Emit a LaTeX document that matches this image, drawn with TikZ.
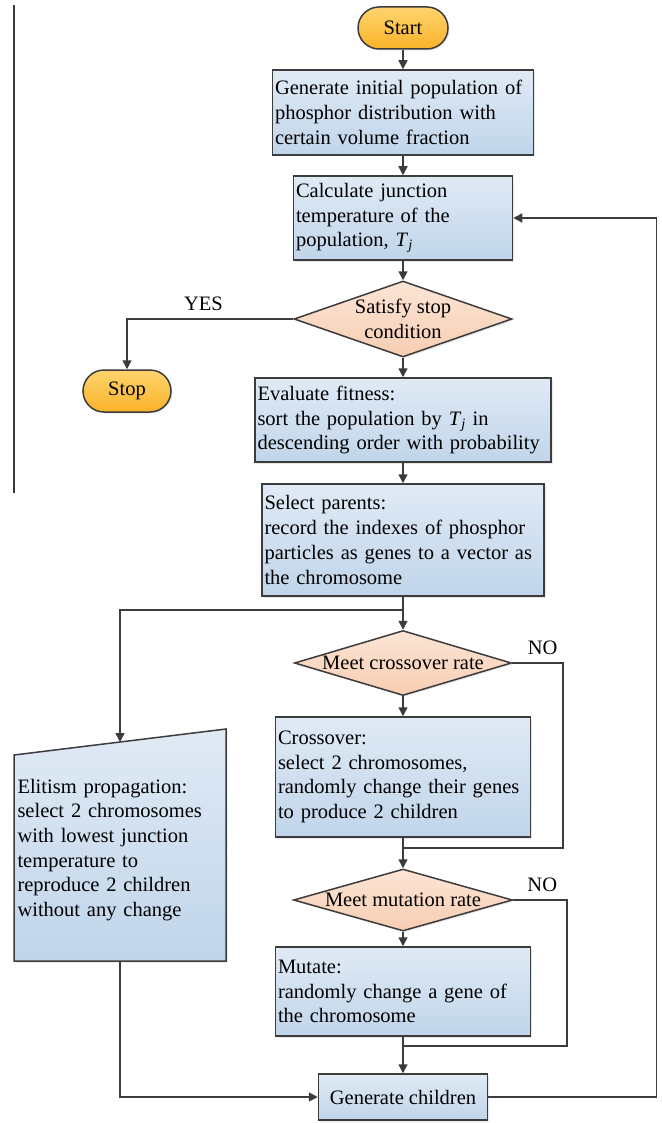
\documentclass[tikz,border=0pt]{standalone}
\usepackage{fontspec}
\setmainfont{Liberation Serif}
\usepackage{xcolor}
\usepackage{tikz}
\usetikzlibrary{arrows.meta,shapes,shadows}

\definecolor{edgegray}{RGB}{60,60,60}
\definecolor{boxtop}{RGB}{224,234,245}
\definecolor{boxbot}{RGB}{192,213,234}
\definecolor{diatop}{RGB}{252,229,213}
\definecolor{diabot}{RGB}{247,205,178}
\definecolor{termtop}{RGB}{254,212,110}
\definecolor{termbot}{RGB}{249,178,40}

\begin{document}
\begin{tikzpicture}[x=1pt,y=-1pt]
		\tikzstyle{every node}=[font=\fontsize{20.5}{24.7}\selectfont]
		\tikzstyle{shade_box}=[draw=edgegray, line width=1.5pt, drop shadow={opacity=0.18,shadow xshift=1.5pt,shadow yshift=-1.5pt}]
		\tikzstyle{process}=[shade_box, rectangle, top color=boxtop, bottom color=boxbot, inner sep=2.5pt, align=left]
		\tikzstyle{decision}=[shade_box, diamond, top color=diatop, bottom color=diabot, inner sep=0pt]
		\tikzstyle{terminal}=[shade_box, rectangle, rounded corners=21pt, top color=termtop, bottom color=termbot, minimum height=42pt, inner sep=0pt]
		\tikzstyle{line}=[draw=edgegray, line width=1.5pt]
		\tikzstyle{arrow}=[line, -{Triangle[length=9pt,width=9pt]}]
		\tikzstyle{branch_text}=[draw=none, fill=none]

		\useasboundingbox (0,0) rectangle (661,1123);

		\draw[line] (14,5) -- (14,493);

		% main column
		\node (start) [terminal, minimum width=90pt] at (403,28) {Start};
		\node (gen_init) [process, text width=256pt, minimum height=85pt] at (403,112.5) {Generate initial population of\\phosphor distribution with\\certain volume fraction};
		\node (calc_temp) [process, text width=214pt, minimum height=84pt] at (403,218) {Calculate junction\\temperature of the\\population, \textit{T}\textsubscript{\textit{j}}};

		\node (stop_cond) [decision, minimum width=218pt, minimum height=76pt] at (403,319) {};
		\node (stop_cond_text) [align=center] at (stop_cond) {Satisfy stop\\condition};
		\node (stop) [terminal, minimum width=88pt] at (127,391) {Stop};

		\node (eval_fit) [process, text width=291pt, minimum height=84pt] at (403,420) {Evaluate fitness:\\sort the population by \textit{T}\textsubscript{\textit{j}} in\\descending order with probability};
		\node (sel_par) [process, text width=277pt, minimum height=112pt] at (403,540) {Select parents:\\record the indexes of phosphor\\particles as genes to a vector as\\the chromosome};

		% crossover and mutation
		\node (cross_rate) [decision, minimum width=217pt, minimum height=65pt] at (403,663) {};
		\node (cross_rate_text) at (cross_rate) {Meet crossover rate};
		\node (crossover) [process, text width=250pt, minimum height=120pt] at (403,777) {Crossover:\\select 2 chromosomes,\\randomly change their genes\\to produce 2 children};

		\node (mut_rate) [decision, minimum width=219pt, minimum height=62pt] at (403,900) {};
		\node (mut_rate_text) at (mut_rate) {Meet mutation rate};
		\node (mutate) [process, text width=250pt, minimum height=89pt] at (403,991.5) {Mutate:\\randomly change a gene of\\the chromosome};

		\node (gen_child) [process, align=center, minimum width=169pt, minimum height=46pt] at (403,1097) {Generate children};

		% elitism branch
		\draw[shade_box, top color=boxtop, bottom color=boxbot] (14,755) -- (226,729) -- (226,961) -- (14,961) -- cycle;
		\node (elitism) [align=left, text width=205pt, inner sep=0pt] at (120,850) {Elitism propagation:\\select 2 chromosomes\\with lowest junction\\temperature to\\reproduce 2 children\\without any change};
		\coordinate (elite_in) at (120,742);
		\coordinate (elite_out) at (120,961);

		\coordinate (split) at (403,610);
		\coordinate (cross_no) at (563,848);
		\coordinate (cross_join) at (403,848);
		\coordinate (mut_no) at (567,1046);
		\coordinate (mut_join) at (403,1046);

		% connectors
		\draw[arrow] (start) -- (gen_init);
		\draw[arrow] (gen_init) -- (calc_temp);
		\draw[arrow] (calc_temp) -- (stop_cond);
		\draw[arrow] (stop_cond.west) -| node[branch_text, pos=0.27, above=4pt] {YES} (stop);
		\draw[arrow] (stop_cond) -- (eval_fit);
		\draw[arrow] (eval_fit) -- (sel_par);
		\draw[line] (sel_par) -- (split);
		\draw[arrow] (split) -- (cross_rate);
		\draw[arrow] (split) -| (elite_in);

		\draw[arrow] (cross_rate) -- (crossover);
		\draw[line] (cross_rate.east) -| node[branch_text, pos=0.3, above=4pt] {NO} (cross_no) -- (cross_join);
		\draw[line] (crossover) -- (cross_join);
		\draw[arrow] (cross_join) -- (mut_rate);

		\draw[arrow] (mut_rate) -- (mutate);
		\draw[line] (mut_rate.east) -| node[branch_text, pos=0.27, above=4pt] {NO} (mut_no) -- (mut_join);
		\draw[line] (mutate) -- (mut_join);
		\draw[arrow] (mut_join) -- (gen_child);

		\draw[arrow] (elite_out) |- (gen_child);
		\draw[arrow] (gen_child.east) -- ++(168,0) |- (calc_temp.east);

	\end{tikzpicture}
\end{document}
